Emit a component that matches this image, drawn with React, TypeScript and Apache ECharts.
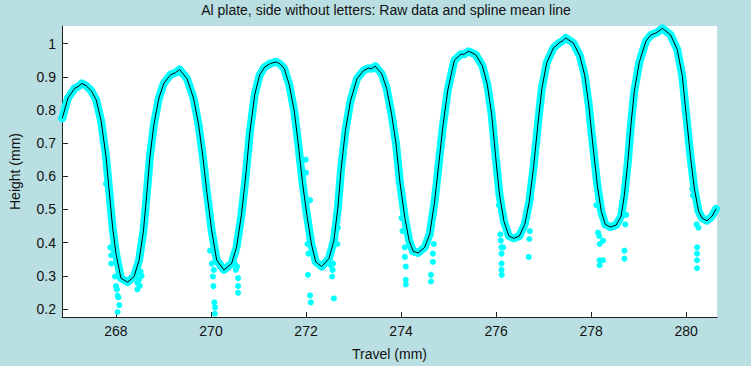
import React, { useEffect, useRef } from "react";
import * as echarts from "echarts";

const titleText = "Al plate, side without letters: Raw data and spline mean line";
const xName = "Travel (mm)";
const yName = "Height (mm)";
const xTicks = [268, 270, 272, 274, 276, 278, 280];
const yTicks = [0.2, 0.3, 0.4, 0.5, 0.6, 0.7, 0.8, 0.9, 1.0];

// spline mean line
const meanX = [
  266.87, 266.99, 267.13, 267.2, 267.285, 267.38, 267.479, 267.583, 267.687, 267.79, 267.86, 267.93, 268.0, 268.104,
  268.244, 268.382, 268.486, 268.578, 268.646, 268.715, 268.8, 268.903, 269.007, 269.147, 269.25, 269.34, 269.495,
  269.632, 269.737, 269.828, 269.912, 270.016, 270.12, 270.272, 270.433, 270.537, 270.641, 270.731, 270.814, 270.919,
  271.023, 271.127, 271.25, 271.371, 271.46, 271.544, 271.648, 271.752, 271.836, 271.925, 272.017, 272.113, 272.205,
  272.33, 272.482, 272.586, 272.67, 272.738, 272.83, 272.934, 273.072, 273.212, 273.316, 273.38, 273.456, 273.593,
  273.697, 273.801, 273.893, 273.977, 274.081, 274.171, 274.254, 274.358, 274.498, 274.602, 274.706, 274.796, 274.879,
  274.984, 275.088, 275.123, 275.261, 275.33, 275.422, 275.574, 275.713, 275.817, 275.907, 275.99, 276.074, 276.166,
  276.27, 276.374, 276.49, 276.603, 276.699, 276.791, 276.881, 276.964, 277.068, 277.208, 277.346, 277.4, 277.465,
  277.625, 277.763, 277.867, 277.95, 278.042, 278.132, 278.215, 278.298, 278.409, 278.528, 278.632, 278.7, 278.771,
  278.84, 278.909, 279.013, 279.153, 279.257, 279.382, 279.501, 279.674, 279.813, 279.918, 280.008, 280.091, 280.174,
  280.264, 280.335, 280.439, 280.543, 280.63,
];
const meanY = [
  0.775, 0.836, 0.865, 0.87, 0.88, 0.872, 0.858, 0.831, 0.767, 0.66, 0.552, 0.445, 0.367, 0.293,
  0.281, 0.298, 0.347, 0.435, 0.543, 0.66, 0.757, 0.836, 0.88, 0.906, 0.912, 0.922, 0.894,
  0.836, 0.757, 0.66, 0.552, 0.435, 0.347, 0.318, 0.337, 0.386, 0.484, 0.601, 0.728, 0.845,
  0.905, 0.929, 0.94, 0.945, 0.938, 0.924, 0.875, 0.797, 0.699, 0.582, 0.484, 0.396, 0.342,
  0.328, 0.352, 0.406, 0.504, 0.621, 0.738, 0.826, 0.894, 0.919, 0.926, 0.924, 0.932, 0.909,
  0.865, 0.787, 0.699, 0.582, 0.474, 0.406, 0.374, 0.369, 0.386, 0.425, 0.523, 0.64, 0.748,
  0.86, 0.928, 0.95, 0.968, 0.968, 0.977, 0.966, 0.933, 0.875, 0.787, 0.66, 0.543, 0.464,
  0.42, 0.413, 0.42, 0.455, 0.523, 0.63, 0.757, 0.865, 0.943, 0.987, 1.004, 1.008, 1.017,
  1.002, 0.963, 0.904, 0.816, 0.689, 0.572, 0.494, 0.455, 0.447, 0.453, 0.48, 0.543, 0.64,
  0.757, 0.855, 0.943, 1.007, 1.026, 1.033, 1.046, 1.026, 0.982, 0.904, 0.777, 0.66, 0.562,
  0.494, 0.474, 0.466, 0.479, 0.502,
];

// raw data points that stray from the band
const outX = [
  267.79, 267.88, 267.9, 267.9, 267.93, 267.98, 268.0, 268.035, 268.07, 268.035, 268.05, 268.02,
  268.45, 268.486, 268.52, 268.54, 268.45, 268.5,
  269.98, 270.016, 270.04, 270.05, 270.07, 270.085, 270.08, 270.06, 270.5, 270.52, 270.57, 270.57, 270.57, 270.55,
  271.995, 272.0, 272.085, 272.06, 272.03, 272.05, 272.04, 272.085, 272.1, 272.586, 272.55, 272.56, 272.57, 272.67, 272.66, 272.52,
  274.01, 274.03, 274.08, 274.08, 274.1, 274.1, 274.1, 274.67, 274.63, 274.63, 274.69, 274.67,
  276.06, 276.09, 276.1, 276.115, 276.115, 276.115, 276.115, 276.12, 276.15, 276.687, 276.7, 276.71, 276.73,
  278.11, 278.147, 278.18, 278.18, 278.18, 278.17, 278.25, 278.25, 278.7, 278.7, 278.72, 278.74,
  280.13, 280.14, 280.23, 280.23, 280.23, 280.23, 280.26, 280.22,
];
const outY = [
  0.577, 0.386, 0.362, 0.337, 0.381, 0.298, 0.269, 0.24, 0.212, 0.191, 0.235, 0.259,
  0.259, 0.288, 0.313, 0.3, 0.279, 0.27,
  0.376, 0.337, 0.298, 0.269, 0.22, 0.205, 0.186, 0.318, 0.337, 0.318, 0.293, 0.269, 0.249, 0.328,
  0.65, 0.611, 0.528, 0.464, 0.396, 0.367, 0.303, 0.241, 0.22, 0.232, 0.298, 0.318, 0.337, 0.445, 0.396, 0.332,
  0.474, 0.435, 0.386, 0.357, 0.328, 0.288, 0.274, 0.342, 0.303, 0.283, 0.396, 0.367,
  0.513, 0.425, 0.406, 0.386, 0.367, 0.337, 0.318, 0.303, 0.386, 0.357, 0.411, 0.435, 0.533,
  0.513, 0.43, 0.396, 0.347, 0.332, 0.42, 0.406, 0.347, 0.376, 0.352, 0.455, 0.484,
  0.562, 0.543, 0.386, 0.367, 0.347, 0.323, 0.445, 0.455,
];

const FONT = "'Liberation Sans', Arial, sans-serif";
const TXT = "#111111";

export default function App() {
  const ref = useRef<HTMLDivElement>(null);
  useEffect(() => {
    if (!ref.current) return;
    const chart = echarts.init(ref.current, undefined, { renderer: "svg" });
    const meanData = meanX.map((x, i) => [x, meanY[i]]);
    const outData = outX.map((x, i) => [x, outY[i]]);
    chart.setOption({
      animation: false,
      backgroundColor: "#b9dfe2",
      title: {
        text: titleText,
        left: 386,
        top: 3,
        padding: 0,
        textAlign: "center",
        textStyle: { fontFamily: FONT, fontSize: 14, fontWeight: "normal", color: TXT },
      },
      grid: {
        left: 55,
        right: 34,
        top: 26,
        bottom: 41,
        show: true,
        backgroundColor: "#ffffff",
        borderWidth: 0,
      },
      xAxis: {
        type: "value",
        min: 266.864,
        max: 280.65,
        name: xName,
        nameLocation: "middle",
        nameGap: 30,
        nameTextStyle: { fontFamily: FONT, fontSize: 14, color: TXT },
        axisLine: { show: true, lineStyle: { color: "#222", width: 1 } },
        axisTick: { show: true, inside: true, length: 5, customValues: xTicks, lineStyle: { color: "#222" } },
        axisLabel: { customValues: xTicks, margin: 7, fontFamily: FONT, fontSize: 14, color: TXT },
        splitLine: { show: false },
      },
      yAxis: {
        type: "value",
        min: 0.176,
        max: 1.053,
        name: yName,
        nameLocation: "middle",
        nameGap: 40,
        nameTextStyle: { fontFamily: FONT, fontSize: 14, color: TXT },
        axisLine: { show: true, lineStyle: { color: "#222", width: 1 } },
        axisTick: { show: true, inside: true, length: 6, customValues: yTicks, lineStyle: { color: "#222" } },
        axisLabel: {
          customValues: yTicks,
          margin: 6,
          fontFamily: FONT,
          fontSize: 14,
          color: TXT,
          formatter: (v: number) => String(Math.round(v * 10) / 10),
        },
        splitLine: { show: false },
      },
      series: [
        {
          type: "line",
          data: meanData,
          showSymbol: false,
          symbol: "none",
          lineStyle: { color: "#00ffff", width: 8, cap: "round", join: "round" },
          z: 2,
        },
        {
          type: "scatter",
          data: outData,
          symbol: "circle",
          symbolSize: 6,
          itemStyle: { color: "#00ffff", opacity: 1 },
          z: 3,
        },
        {
          type: "line",
          data: meanData,
          showSymbol: false,
          symbol: "none",
          lineStyle: { color: "#000000", width: 1 },
          z: 4,
        },
      ],
    });
    return () => chart.dispose();
  }, []);
  return <div ref={ref} style={{ width: 751, height: 366, position: "absolute", left: 0, top: 0 }} />;
}
